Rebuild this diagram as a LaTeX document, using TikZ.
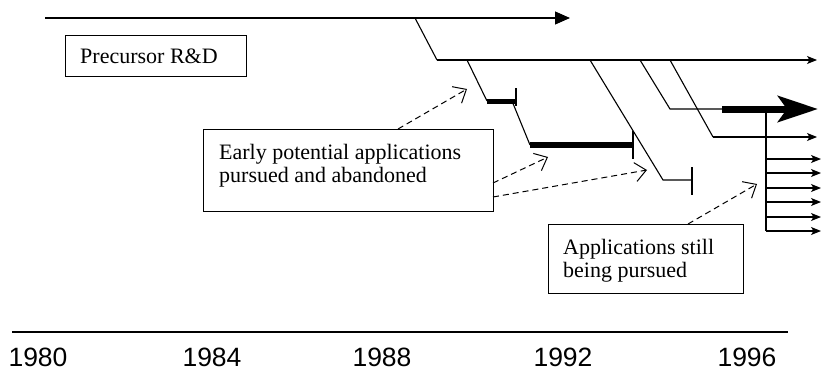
\documentclass[tikz,border=0pt]{standalone}
\usepackage{fontspec}
\setmainfont{Liberation Serif}
\newfontfamily\yearfont{Liberation Sans}
\usetikzlibrary{arrows.meta}
\begin{document}
\begin{tikzpicture}[x=1pt,y=-1pt,
  ln/.style={line width=1.1pt},
  bar/.style={line width=5pt},
  box/.style={draw,line width=1.1pt,inner sep=0pt,anchor=north west},
  lbl/.style={inner sep=0pt,anchor=base west,align=left,font=\fontsize{22}{23}\selectfont},
  yr/.style={inner sep=0pt,anchor=base,font=\yearfont\fontsize{26.5}{28}\selectfont},
  small/.style={ln,-{Stealth[length=10pt,width=8pt,inset=2.5pt]}},
  pointer/.style={line width=1pt,dash pattern=on 6pt off 4pt,-{Straight Barb[length=11pt,width=19pt]}},
]
\useasboundingbox (0,0) rectangle (822,370);

% boxes
\node[box,minimum width=181pt,minimum height=41pt] (prec) at (65,35) {};
\node[lbl] (prectext) at (80,63) {Precursor R\&D};
\node[box,minimum width=290pt,minimum height=82pt] (early) at (203,129) {};
\node[lbl] (earlytext) at (219,182) {Early potential applications\\pursued and abandoned};
\node[box,minimum width=195pt,minimum height=69pt] (still) at (548,224) {};
\node[lbl] (stilltext) at (563,277) {Applications still\\being pursued};

% main lines
\coordinate (t0) at (45,18);  \coordinate (t1) at (570,18);
\coordinate (b0) at (415,18); \coordinate (m0) at (437,60); \coordinate (m1) at (817,60);
\draw[ln,-{Triangle[length=15pt,width=13pt]}] (t0) -- (t1);
\draw[ln] (b0) -- (m0);
\draw[small] (m0) -- (m1);

% abandoned branch 1
\coordinate (d1a) at (467,60); \coordinate (d1b) at (487,101); \coordinate (d1c) at (516,101);
\coordinate (k1a) at (516,88); \coordinate (k1b) at (516,106);
\draw[ln] (d1a) -- (d1b);
\draw[bar] (d1b) -- (d1c);
\draw[ln] (k1a) -- (k1b);
% abandoned branch 2
\coordinate (d2a) at (512,101); \coordinate (d2b) at (530,145); \coordinate (d2c) at (633,145);
\coordinate (k2a) at (633,131); \coordinate (k2b) at (633,159);
\draw[ln] (d2a) -- (d2b);
\draw[bar,line width=6pt] (d2b) -- (d2c);
\draw[ln] (k2a) -- (k2b);
% abandoned branch 3
\coordinate (d3a) at (590,60); \coordinate (d3b) at (663,180); \coordinate (d3c) at (692,180);
\coordinate (k3a) at (692,167); \coordinate (k3b) at (692,195);
\draw[ln] (d3a) -- (d3b) -- (d3c);
\draw[ln] (k3a) -- (k3b);

% pursued branches
\coordinate (d4a) at (640,60); \coordinate (d4b) at (670,109); \coordinate (d4c) at (722,109); \coordinate (d4d) at (818,109);
\draw[ln] (d4a) -- (d4b) -- (d4c);
\draw[line width=7pt,-{Stealth[length=40pt,width=26pt,inset=9pt]}] (d4c) -- (d4d);
\coordinate (d5a) at (670,60); \coordinate (d5b) at (713,137); \coordinate (d5c) at (817,137);
\draw[ln] (d5a) -- (d5b);
\draw[small] (d5b) -- (d5c);

\coordinate (v0) at (766,109); \coordinate (v1) at (766,231);
\draw[ln] (v0) -- (v1);
\foreach \yy/\nm in {159/r1,173/r2,188/r3,202/r4,217/r5,231/r6}{
  \coordinate (\nm s) at (766,\yy);
  \coordinate (\nm e) at (821,\yy);
  \draw[small] (\nm s) -- (\nm e);
}

% dashed pointers
\coordinate (p1s) at (398,129); \coordinate (p1e) at (467,89);
\coordinate (p2s) at (493,183); \coordinate (p2e) at (548,157);
\coordinate (p3s) at (493,197); \coordinate (p3e) at (647,170);
\coordinate (p4s) at (688,224); \coordinate (p4e) at (757,184);
\draw[pointer] (p1s) -- (p1e);
\draw[pointer] (p2s) -- (p2e);
\draw[pointer] (p3s) -- (p3e);
\draw[pointer] (p4s) -- (p4e);

% time axis
\coordinate (ax0) at (12,332); \coordinate (ax1) at (788,332);
\draw[ln] (ax0) -- (ax1);
\node[yr] (y1980) at (38,366) {1980};
\node[yr] (y1984) at (212,366) {1984};
\node[yr] (y1988) at (382,366) {1988};
\node[yr] (y1992) at (563,366) {1992};
\node[yr] (y1996) at (747,366) {1996};
\end{tikzpicture}
\end{document}
